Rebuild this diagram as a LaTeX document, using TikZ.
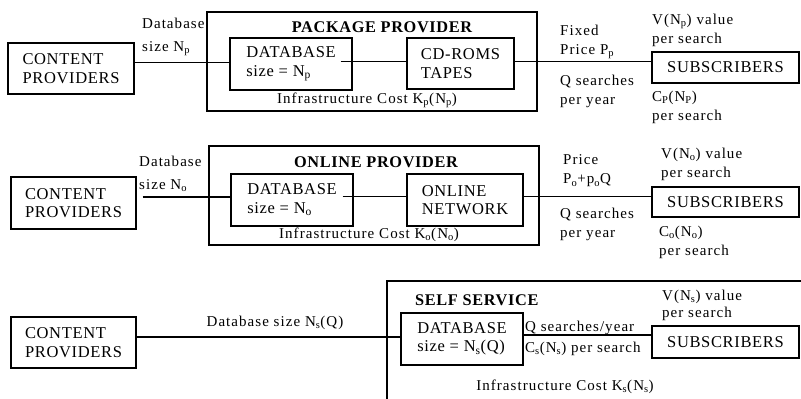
\documentclass[tikz,border=0pt]{standalone}
\usepackage{fontspec}
\setmainfont{Liberation Serif}[LetterSpace=4]
\newfontfamily\lblfont{Liberation Serif}[LetterSpace=7]
\begin{document}
\begin{tikzpicture}[x=1pt,y=-1pt,
  box/.style={draw,line width=1.1pt,align=left,inner sep=0pt,font=\fontsize{16.5}{18.5}\selectfont},
  frame/.style={draw,line width=1.1pt},
  conn/.style={line width=1.1pt},
  lbl/.style={anchor=west,inner sep=0pt,align=left,font=\lblfont\fontsize{15}{19}\selectfont},
  lblc/.style={inner sep=0pt,align=center,font=\lblfont\fontsize{15}{19}\selectfont},
  ttl/.style={inner sep=0pt,font=\fontsize{16.3}{18}\selectfont\bfseries}]
\useasboundingbox (0,0) rectangle (801,399);
% ---------- panel 1 : package provider
\draw[frame] (207,12) rectangle (537,111);
\node[box,minimum width=126pt,minimum height=51pt] (cp1) at (71,68.5) {CONTENT\\PROVIDERS};
\node[box,minimum width=122pt,minimum height=52pt] (db1) at (291,64) {DATABASE\\size = N\textsubscript{p}};
\node[box,minimum width=107pt,minimum height=51pt] (cd1) at (460.5,63.5) {CD-ROMS\\TAPES};
\node[box,minimum width=147pt,minimum height=31pt,align=center] (sub1) at (725.5,67.5) {SUBSCRIBERS};
\coordinate (y1a) at (0,62.5);
\coordinate (y1b) at (0,61.5);
\draw[conn] (cp1.east |- y1a) -- (db1.west |- y1a);
\draw[conn] ([xshift=-12pt]db1.east |- y1b) -- (cd1.west |- y1b);
\draw[conn] (cd1.east |- y1b) -- (sub1.west |- y1b);
\node[ttl] (t1) at (382,27) {PACKAGE PROVIDER};
\node[lblc] (k1) at (367,100) {Infrastructure Cost K\textsubscript{p}(N\textsubscript{p})};
\node[lbl,font=\lblfont\fontsize{15}{23}\selectfont] (ds1) at (142,36.5) {Database\\size N\textsubscript{p}};
\node[lbl] (pr1) at (560,42) {Fixed\\Price P\textsubscript{p}};
\node[lbl] (q1) at (560,91) {Q searches\\per year};
\node[lbl] (v1) at (652,30) {V(N\textsubscript{p}) value\\per search};
\node[lbl] (c1) at (652,107) {C\textsubscript{P}(N\textsubscript{P})\\per search};
% ---------- panel 2 : online provider
\draw[frame] (209,146) rectangle (539,245);
\node[box,minimum width=125pt,minimum height=52pt] (cp2) at (73.5,203) {CONTENT\\PROVIDERS};
\node[box,minimum width=122pt,minimum height=52pt] (db2) at (292,200) {DATABASE\\size = N\textsubscript{o}};
\node[box,minimum width=116pt,minimum height=52pt] (net2) at (465,200) {ONLINE\\NETWORK};
\node[box,minimum width=147pt,minimum height=30pt,align=center] (sub2) at (725.5,202) {SUBSCRIBERS};
\coordinate (y2a) at (0,197);
\coordinate (y2b) at (0,196.5);
\draw[conn] ([xshift=6pt]cp2.east |- y2a) -- (db2.west |- y2a);
\draw[conn] ([xshift=-11pt]db2.east |- y2b) -- (net2.west |- y2b);
\draw[conn] (net2.east |- y2b) -- (sub2.west |- y2b);
\node[ttl] (t2) at (376,162) {ONLINE PROVIDER};
\node[lblc] (k2) at (369,235) {Infrastructure Cost K\textsubscript{o}(N\textsubscript{o})};
\node[lbl,font=\lblfont\fontsize{15}{23}\selectfont] (ds2) at (139,173.5) {Database\\size N\textsubscript{o}};
\node[lbl] (pr2) at (563,171) {Price\\P\textsubscript{o}+p\textsubscript{o}Q};
\node[lbl] (q2) at (560,224.5) {Q searches\\per year};
\node[lbl] (v2) at (661,164) {V(N\textsubscript{o}) value\\per search};
\node[lbl] (c2) at (659,242) {C\textsubscript{o}(N\textsubscript{o})\\per search};
% ---------- panel 3 : self service
\draw[frame] (387,399) -- (387,281) -- (801,281);
\node[box,minimum width=125pt,minimum height=51pt] (cp3) at (73.5,342.5) {CONTENT\\PROVIDERS};
\node[box,minimum width=122pt,minimum height=52pt] (db3) at (462,339) {DATABASE\\size = N\textsubscript{s}(Q)};
\node[box,minimum width=147pt,minimum height=32pt,align=center] (sub3) at (725.5,342) {SUBSCRIBERS};
\coordinate (y3a) at (0,337);
\coordinate (y3b) at (0,335);
\draw[conn] (cp3.east |- y3a) -- (db3.west |- y3a);
\draw[conn] (db3.east |- y3b) -- (sub3.west |- y3b);
\node[lblc] (ds3) at (275,323) {Database size N\textsubscript{s}(Q)};
\node[ttl,anchor=west] (t3) at (415,300) {SELF SERVICE};
\node[lbl] (q3) at (525,328) {Q searches/year};
\node[lbl] (c3) at (525,349) {C\textsubscript{s}(N\textsubscript{s}) per search};
\node[lbl,font=\lblfont\fontsize{15}{17}\selectfont] (v3) at (662,305) {V(N\textsubscript{s}) value\\per search};
\node[lblc] (k3) at (565,387) {Infrastructure Cost K\textsubscript{s}(N\textsubscript{s})};
\end{tikzpicture}
\end{document}
